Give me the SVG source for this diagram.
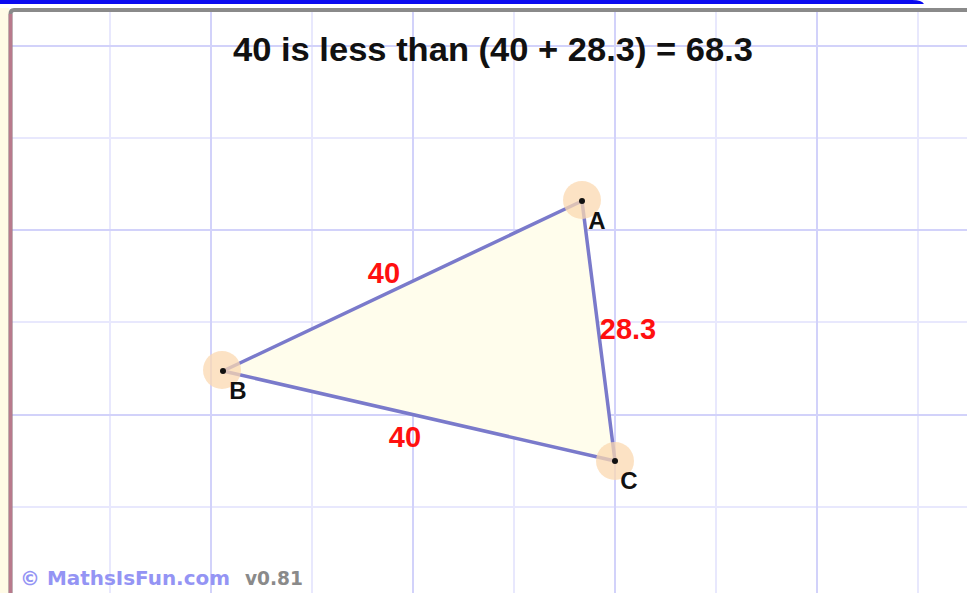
<svg xmlns="http://www.w3.org/2000/svg" width="967" height="593" viewBox="0 0 967 593">
<style>
.minor{stroke:#e8e8fd;stroke-width:2}
.major{stroke:#d2d2fa;stroke-width:2}
.halo{fill:#fbd8b0;opacity:0.75}
.dot{fill:#111}
.edge{stroke:#7a7acb;stroke-width:3.5;fill:none;stroke-linecap:round}
.vlab{font-family:"Liberation Sans",Arial,sans-serif;font-weight:bold;font-size:24px;fill:#111}
.len{font-family:"Liberation Sans",Arial,sans-serif;font-weight:bold;font-size:29px;fill:#ff1010}
</style>
<rect x="0" y="0" width="967" height="593" fill="#ffffff"/>
<rect x="0" y="8" width="9" height="585" fill="#fffbe6"/>
<path d="M0,0 H912 Q922,0 924,4 H0 Z" fill="#0a0af0"/>
<g id="grid">
<line class="minor" x1="110" y1="12" x2="110" y2="593"/>
<line class="minor" x1="312" y1="12" x2="312" y2="593"/>
<line class="minor" x1="514" y1="12" x2="514" y2="593"/>
<line class="minor" x1="716" y1="12" x2="716" y2="593"/>
<line class="minor" x1="918" y1="12" x2="918" y2="593"/>
<line class="minor" x1="12" y1="138" x2="967" y2="138"/>
<line class="minor" x1="12" y1="322" x2="967" y2="322"/>
<line class="minor" x1="12" y1="507" x2="967" y2="507"/>
<line class="major" x1="211" y1="12" x2="211" y2="593"/>
<line class="major" x1="413" y1="12" x2="413" y2="593"/>
<line class="major" x1="615" y1="12" x2="615" y2="593"/>
<line class="major" x1="817" y1="12" x2="817" y2="593"/>
<line class="major" x1="12" y1="46" x2="967" y2="46"/>
<line class="major" x1="12" y1="230" x2="967" y2="230"/>
<line class="major" x1="12" y1="415" x2="967" y2="415"/>
</g>
<path d="M10.5,593 V14 Q10.5,10 14,10 H967" fill="none" stroke="#8a8a8a" stroke-width="4"/>
<line x1="10.5" y1="14" x2="10.5" y2="593" stroke="#b87a8c" stroke-width="3.5"/>
<text x="493" y="61" text-anchor="middle" textLength="520" lengthAdjust="spacingAndGlyphs" font-family="Liberation Sans, Arial, sans-serif" font-weight="bold" font-size="33" fill="#111">40 is less than (40 + 28.3) = 68.3</text>
<g id="triangle">
<polygon points="582,201 223,371 615,461" fill="#fffdec" stroke="none"/>
</g>
<g id="connectors">
<line class="edge" x1="582" y1="201" x2="223" y2="371"/>
<line class="edge" x1="582" y1="201" x2="615" y2="461"/>
<line class="edge" x1="223" y1="371" x2="615" y2="461"/>
<text class="len" x="384" y="283" text-anchor="middle">40</text>
<text class="len" x="628" y="339" text-anchor="middle">28.3</text>
<text class="len" x="405" y="447" text-anchor="middle">40</text>
</g>
<g id="A">
<circle class="halo" cx="582" cy="200" r="19"/>
<circle class="dot" cx="582" cy="201" r="3"/>
<text class="vlab" x="597" y="229" text-anchor="middle">A</text>
</g>
<g id="B">
<circle class="halo" cx="222" cy="370" r="19"/>
<circle class="dot" cx="223" cy="371" r="3"/>
<text class="vlab" x="238" y="399" text-anchor="middle">B</text>
</g>
<g id="C">
<circle class="halo" cx="615" cy="461" r="19"/>
<circle class="dot" cx="615" cy="461" r="3"/>
<text class="vlab" x="629" y="489" text-anchor="middle">C</text>
</g>
<text x="20" y="585" textLength="210" lengthAdjust="spacingAndGlyphs" font-family="DejaVu Sans, Verdana, sans-serif" font-weight="bold" font-size="19" fill="#9494f4">© MathsIsFun.com</text>
<text x="245" y="585" textLength="58" lengthAdjust="spacingAndGlyphs" font-family="DejaVu Sans, Verdana, sans-serif" font-weight="bold" font-size="19" fill="#8a8a8a">v0.81</text>
</svg>
